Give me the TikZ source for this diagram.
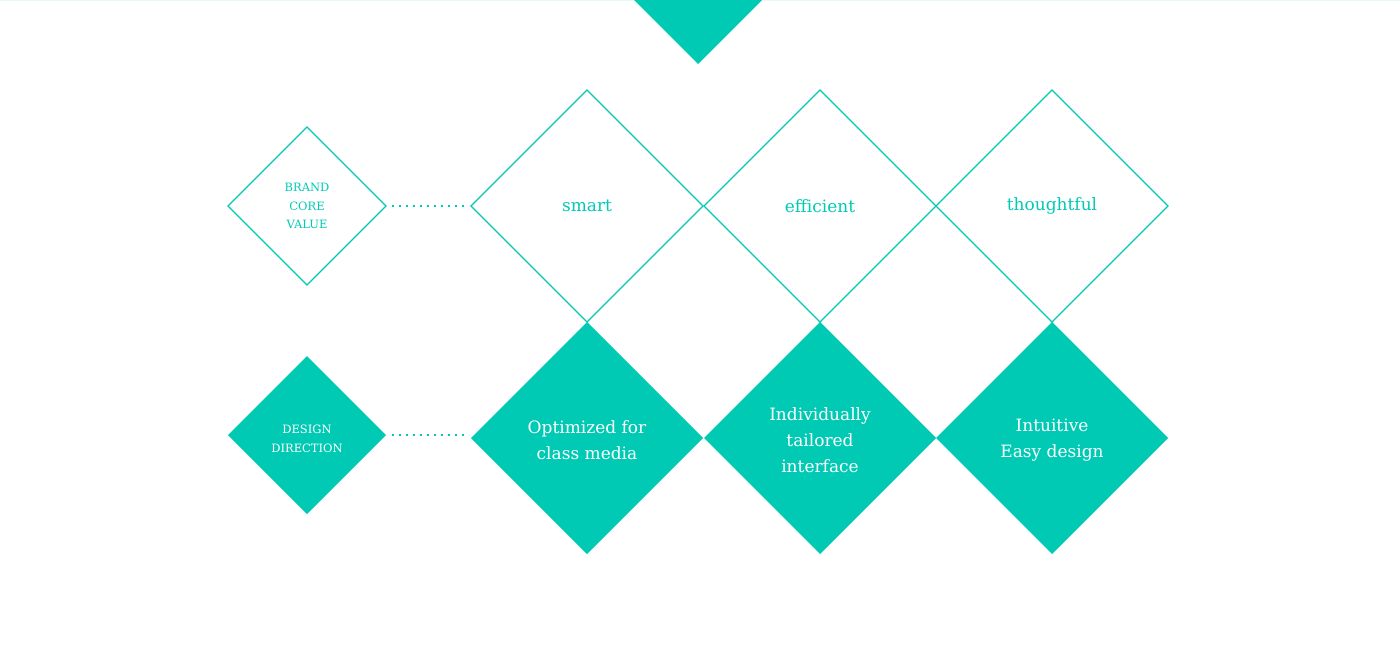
\documentclass[tikz,border=0pt]{standalone}
\usepackage{fontspec}
\setmainfont{DejaVu Serif}
\definecolor{teal}{HTML}{00CAB4}
\begin{document}
\begin{tikzpicture}[x=1pt,y=-1pt,
  outl/.style={draw=teal,line width=1.3pt},
  fil/.style={fill=teal},
  lbl/.style={align=center,font=\fontsize{17}{26}\selectfont},
  small/.style={align=center,font=\fontsize{11.5}{18.5}\selectfont},
  dots/.style={teal,line width=2pt,dash pattern=on 2pt off 5pt}]
\useasboundingbox (0,0) rectangle (1400,646);
\draw[teal!10,line width=1pt] (0,0.5) -- (1400,0.5);
\fill[teal] (634,0) -- (762,0) -- (698,64) -- cycle;
% top row outlines
\foreach \c/\n in {587/a,820/b,1052/c}{
  \draw[outl] (\c-116,206) -- (\c,90) -- (\c+116,206) -- (\c,322) -- cycle;
  \fill[teal] (\c-116,438) -- (\c,322) -- (\c+116,438) -- (\c,554) -- cycle;
}
\draw[outl] (228,206) -- (307,127) -- (386,206) -- (307,285) -- cycle;
\fill[teal] (228,435) -- (307,356) -- (386,435) -- (307,514) -- cycle;
\coordinate (d1a) at (392,206); \coordinate (d1b) at (469,206);
\coordinate (d2a) at (392,435); \coordinate (d2b) at (469,435);
\draw[dots] (d1a) -- (d1b);
\draw[dots] (d2a) -- (d2b);
\node[small,text=teal] (bcv) at (307,206) {BRAND\\CORE\\VALUE};
\node[small,text=white] (dd) at (307,439) {DESIGN\\DIRECTION};
\node[lbl,text=teal] (s) at (587,206) {smart};
\node[lbl,text=teal] (e) at (820,206) {efficient};
\node[lbl,text=teal] (t) at (1052,206) {thoughtful};
\node[lbl,text=white] (o) at (587,440) {Optimized for\\class media};
\node[lbl,text=white] (i) at (820,440) {Individually\\tailored\\interface};
\node[lbl,text=white] (u) at (1052,440) {Intuitive\\Easy design};
\end{tikzpicture}
\end{document}
